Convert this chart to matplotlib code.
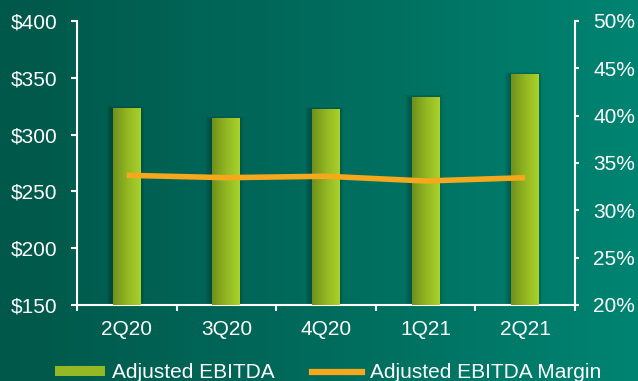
import numpy as np
import matplotlib.pyplot as plt
from matplotlib.colors import LinearSegmentedColormap
from matplotlib.patches import Patch
from matplotlib.lines import Line2D

plt.rcParams['font.family'] = ['Liberation Sans', 'DejaVu Sans']

quarters = ['2Q20', '3Q20', '4Q20', '1Q21', '2Q21']
ebitda = [323.5, 314.5, 322.5, 333.5, 353.5]
margin = [33.7, 33.45, 33.6, 33.1, 33.45]
y_ticks = [150, 200, 250, 300, 350, 400]
pct_ticks = [20, 25, 30, 35, 40, 45, 50]

fig = plt.figure(figsize=(6.38, 3.81), dpi=100)

# gradient background
bg = fig.add_axes([0, 0, 1, 1], zorder=-10)
bg_cmap = LinearSegmentedColormap.from_list('bg', ['#00584a', '#006b5c', '#008472'])
grad = np.linspace(0, 1, 256).reshape(1, -1)
bg.imshow(grad, cmap=bg_cmap, aspect='auto', extent=[0, 1, 0, 1])
bg.axis('off')

ax = fig.add_axes([77/638, 1 - 305/381, 498/638, 284/381])
ax.patch.set_alpha(0)

x = np.arange(len(quarters))
width = 0.28
bar_cmap = LinearSegmentedColormap.from_list('bar', ['#6f8f1c', '#93b622', '#a9d22a'])
bars = ax.bar(x, np.array(ebitda) - 150, width, bottom=150, color='none', zorder=3)
for b in bars:
    x0, y0 = b.get_x(), b.get_y()
    w, h = b.get_width(), b.get_height()
    # soft shadow
    for k in range(4):
        ax.bar(x0 + w/2 - 0.015, h + 0.5*k, w + 0.02 + 0.025*k, bottom=y0,
               color='black', alpha=0.06, zorder=2, linewidth=0)
    im = ax.imshow(grad, cmap=bar_cmap, aspect='auto',
                   extent=[x0, x0 + w, y0, y0 + h], zorder=3)
    im.set_clip_path(b)

ax.set_xlim(-0.5, len(quarters) - 0.5)
ax.set_ylim(150, 400)
ax.set_yticks(y_ticks)
ax.set_yticklabels(['$%d' % v for v in y_ticks])
ax.set_xticks(x)
ax.set_xticklabels(quarters)
ax.set_xticks(np.arange(-0.5, len(quarters)), minor=True)
ax.tick_params(axis='x', which='major', length=0, pad=11, colors='white', labelsize=15)
ax.tick_params(axis='x', which='minor', length=4, width=1.5, color='white', direction='out')
ax.tick_params(axis='y', length=4, width=1.5, colors='white', labelsize=15, pad=10)

for s in ['top', 'right']:
    ax.spines[s].set_visible(False)
for s in ['left', 'bottom']:
    ax.spines[s].set_color('white')
    ax.spines[s].set_linewidth(1.5)

ax2 = ax.twinx()
ax2.patch.set_alpha(0)
ax2.plot(x, margin, color='#f5a81c', linewidth=4, solid_capstyle='butt', zorder=5)
ax2.set_ylim(20, 50)
ax2.set_yticks(pct_ticks)
ax2.set_yticklabels(['%d%%' % v for v in pct_ticks])
ax2.tick_params(axis='y', length=3, width=1.5, colors='white', labelsize=15, pad=10)
for s in ['top', 'left', 'bottom']:
    ax2.spines[s].set_visible(False)
ax2.spines['right'].set_color('white')
ax2.spines['right'].set_linewidth(1.5)

handles = [Patch(facecolor='#95b825', edgecolor='none'),
           Line2D([0], [0], color='#f5a81c', linewidth=4.5)]
leg = fig.legend(handles, ['Adjusted EBITDA', 'Adjusted EBITDA Margin'],
                 loc='center', bbox_to_anchor=(328/638, 8/381), ncol=2,
                 frameon=False, fontsize=15, handlelength=2.4, handleheight=0.4,
                 handletextpad=0.35, columnspacing=1.8, labelcolor='white',
                 borderpad=0)

fig.savefig('out.png', dpi=100)
